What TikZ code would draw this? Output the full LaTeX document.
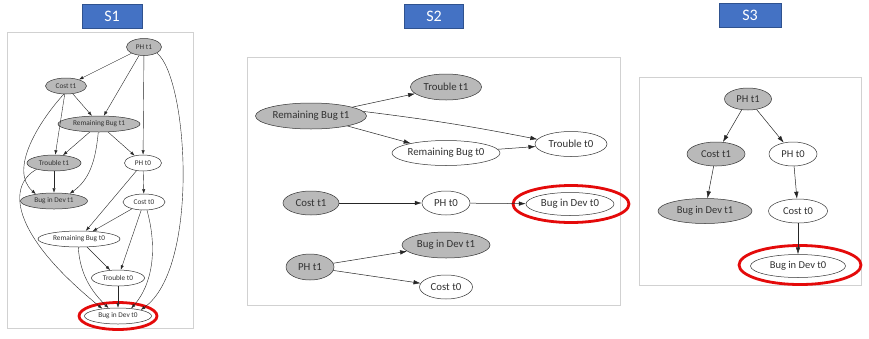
\documentclass[tikz,border=0pt]{standalone}
\usepackage{fontspec}
\setmainfont{Carlito}
\usetikzlibrary{shapes.geometric,arrows.meta}
\definecolor{nodegray}{RGB}{185,185,185}
\definecolor{txtgray}{RGB}{50,50,50}
\definecolor{boxblue}{RGB}{68,114,196}
\definecolor{boxedge}{RGB}{47,82,143}
\definecolor{redring}{RGB}{228,10,10}
\newcommand{\lb}[1]{\makebox[0pt]{#1}}
\tikzset{
  nd/.style={ellipse, inner sep=0pt, draw=black!80, line width=0.5pt, text=txtgray},
  gn/.style={nd, fill=nodegray},
  wn/.style={nd, fill=white},
  fa/.style={font=\fontsize{7.3}{8}\selectfont},
  fb/.style={font=\fontsize{10.8}{12}\selectfont},
  fc/.style={font=\fontsize{10.5}{12}\selectfont},
  ea/.style={draw=black!85, line width=0.4pt, -{Latex[length=4.5pt,width=3.2pt]}},
  eb/.style={draw=black!85, line width=0.5pt, -{Latex[length=7pt,width=4.5pt]}},
  ring/.style={draw=redring, line width=2.8pt},
  panel/.style={draw=black!18, line width=0.8pt, fill=white},
  tag/.style={fill=boxblue, draw=boxedge, line width=0.6pt, text=white, font=\fontsize{16}{18}\selectfont, minimum width=60pt, minimum height=24pt, inner sep=0pt}
}
\begin{document}
\begin{tikzpicture}[x=1pt,y=-1pt]
\useasboundingbox (0,0) rectangle (869,338);
\fill[white] (0,0) rectangle (869,338);

% tags
\node[tag] (t1) at (112,16) {S1};
\node[tag, minimum width=59pt] (t2) at (434,16) {S2};
\node[tag, minimum width=62pt] (t3) at (750,15.5) {S3};

% panels
\draw[panel] (7,32) rectangle (193,328);
\draw[panel] (247,57) rectangle (620,305);
\draw[panel] (639,77) rectangle (861,285);

% ---------- S1 ----------
\begin{scope}[every node/.append style={fa}]
\node[gn, minimum width=35, minimum height=17] (aph1) at (144,47) {\lb{PH t1}};
\node[gn, minimum width=41, minimum height=16] (ac1) at (66,86) {\lb{Cost t1}};
\node[gn, minimum width=82, minimum height=16] (arb1) at (99,124) {\lb{Remaining Bug t1}};
\node[gn, minimum width=54, minimum height=16] (atr1) at (54,163) {\lb{Trouble t1}};
\node[wn, minimum width=37, minimum height=16] (aph0) at (143,163) {\lb{PH t0}};
\node[gn, minimum width=67, minimum height=16] (abd1) at (54,201) {\lb{Bug in Dev t1}};
\node[wn, minimum width=42, minimum height=16] (ac0) at (144,202) {\lb{Cost t0}};
\node[wn, minimum width=82, minimum height=16] (arb0) at (79,239) {\lb{Remaining Bug t0}};
\node[wn, minimum width=53, minimum height=16] (atr0) at (118,278) {\lb{Trouble t0}};
\node[wn, minimum width=67, minimum height=16] (abd0) at (118,316) {\lb{Bug in Dev t0}};
\end{scope}
\draw[ring] (abd0.center) ellipse [x radius=39, y radius=13.5];

\draw[ea] (aph1) -- (ac1);
\draw[ea] (aph1) -- (arb1);
\draw[ea] (aph1) -- (aph0);
\draw[ea] (aph1.-25) .. controls (188,78) and (200,268) .. (abd0.15);
\draw[ea] (ac1) -- (arb1);
\draw[ea] (ac1) -- (atr1);
\draw[ea] (ac1.-105) .. controls (40,120) and (8,170) .. (abd1.159);
\draw[ea] (arb1) -- (atr1);
\draw[ea] (arb1) -- (aph0);
\draw[ea] (arb1.-95) .. controls (96,155) and (92,178) .. (abd1.25);
\draw[ea] (atr1) -- (abd1);
\draw[ea] (atr1.-160) .. controls (8,185) and (8,232) .. (abd0.155);
\draw[ea] (aph0) -- (ac0);
\draw[ea] (aph0) -- (arb0);
\draw[ea] (ac0) -- (arb0);
\draw[ea] (ac0) -- (atr0);
\draw[ea] (ac0.-70) .. controls (158,250) and (152,285) .. (abd0.30);
\draw[ea] (arb0) -- (atr0);
\draw[ea] (arb0.-95) .. controls (80,275) and (92,292) .. (abd0.140);
\draw[ea] (atr0) -- (abd0);

% ---------- S2 ----------
\begin{scope}[every node/.append style={fb}]
\node[gn, minimum width=111, minimum height=26] (brb1) at (311,116) {\lb{Remaining Bug t1}};
\node[gn, minimum width=71, minimum height=26] (btr1) at (446,87) {\lb{Trouble t1}};
\node[wn, minimum width=108, minimum height=25] (brb0) at (446,153) {\lb{Remaining Bug t0}};
\node[wn, minimum width=72, minimum height=25] (btr0) at (571,144) {\lb{Trouble t0}};
\node[gn, minimum width=56, minimum height=24] (bc1) at (311,203) {\lb{Cost t1}};
\node[wn, minimum width=48, minimum height=24] (bph0) at (446,203) {\lb{PH t0}};
\node[wn, minimum width=88, minimum height=23] (bbd0) at (570,204) {\lb{Bug in Dev t0}};
\node[gn, minimum width=88, minimum height=26] (bbd1) at (446,245) {\lb{Bug in Dev t1}};
\node[gn, minimum width=48, minimum height=26] (bph1) at (310,267) {\lb{PH t1}};
\node[wn, minimum width=53, minimum height=24] (bc0) at (446,287) {\lb{Cost t0}};
\end{scope}
\draw[ring] (571,204) ellipse [x radius=58, y radius=18.5];

\draw[eb] (brb1) -- (btr1);
\draw[eb] (brb1.5) to[bend left=2] (btr0.172);
\draw[eb] (brb1) -- (brb0);
\draw[eb] (brb0) -- (btr0);
\draw[eb] (bc1) -- (bph0);
\draw[eb] (bph0) -- (bbd0);
\draw[eb] (bph1) -- (bbd1);
\draw[eb] (bph1) -- (bc0);

% ---------- S3 ----------
\begin{scope}[every node/.append style={fc}]
\node[gn, minimum width=47, minimum height=22] (cph1) at (748,99) {\lb{PH t1}};
\node[gn, minimum width=58, minimum height=24] (cc1) at (716,154) {\lb{Cost t1}};
\node[wn, minimum width=48, minimum height=24] (cph0) at (793,154) {\lb{PH t0}};
\node[gn, minimum width=94, minimum height=25] (cbd1) at (705,211) {\lb{Bug in Dev t1}};
\node[wn, minimum width=59, minimum height=24] (cc0) at (798,211) {\lb{Cost t0}};
\node[wn, minimum width=95, minimum height=23] (cbd0) at (798,266) {\lb{Bug in Dev t0}};
\end{scope}
\draw[ring] (800,265) ellipse [x radius=61, y radius=19.5];

\draw[eb] (cph1) -- (cc1);
\draw[eb] (cph1) -- (cph0);
\draw[eb] (cc1) -- (cbd1);
\draw[eb] (cph0) -- (cc0);
\draw[eb] (cc0) -- (cbd0);
\end{tikzpicture}
\end{document}
